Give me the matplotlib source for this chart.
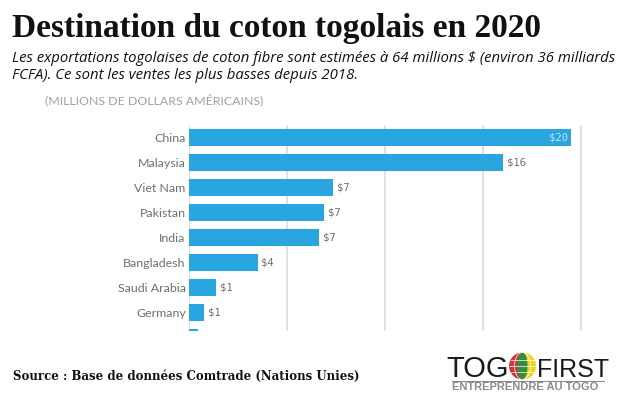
"""Destination du coton togolais en 2020 - bar chart with Togo First logo."""
import matplotlib
matplotlib.use('Agg')
import matplotlib.pyplot as plt
from matplotlib.patches import Wedge, Ellipse, Rectangle

countries = ['China', 'Malaysia', 'Viet Nam', 'Pakistan', 'India', 'Bangladesh',
             'Saudi Arabia', 'Germany', '']
values = [19.5, 16.05, 7.35, 6.9, 6.65, 3.52, 1.39, 0.8, 0.5]
value_labels = ['$20', '$16', '$7', '$7', '$7', '$4', '$1', '$1', '']
x_ticks = [0, 5, 10, 15, 20]

BLUE = '#29a6df'
GRID = '#dcdcdc'
LABEL = '#6e6e6e'

W, H = 625, 400
fig = plt.figure(figsize=(W / 100, H / 100), dpi=100, facecolor='white')

# overlay in pixel coords for the texts and logo
bg = fig.add_axes([0, 0, 1, 1])
bg.set_xlim(0, W)
bg.set_ylim(H, 0)
bg.axis('off')

# chart area: x 188.5-581, y 125-331
x0, x1, y0, y1 = 188.5, 581.5, 125, 331
ax = fig.add_axes([x0 / W, 1 - y1 / H, (x1 - x0) / W, (y1 - y0) / H])
ax.patch.set_alpha(0)
ax.set_xlim(0, 20.04)
ax.set_ylim(7.73, -0.51)
for s in ax.spines.values():
    s.set_visible(False)
ax.set_xticks(x_ticks)
ax.tick_params(axis='x', length=0, labelbottom=False)
ax.grid(True, axis='x', color=GRID, linewidth=1.2, zorder=0)
ax.set_axisbelow(True)

ypos = list(range(len(countries)))
ax.barh(ypos, values, height=0.68, color=BLUE, zorder=2)
ax.set_yticks(ypos[:-1])
ax.set_yticklabels(countries[:-1], fontfamily='Lato', fontsize=8.9, color=LABEL,
                   va='center_baseline')
ax.tick_params(axis='y', length=0, pad=2)

for i, (v, lab) in enumerate(zip(values, value_labels)):
    if not lab:
        continue
    if i == 0:
        ax.text(v - 0.12, i, lab, ha='right', va='center', fontsize=7.6,
                family='DejaVu Sans Mono', color='#bfe3f5', zorder=3)
    else:
        ax.text(v + 0.2, i, lab, ha='left', va='center', fontsize=7.6,
                family='DejaVu Sans Mono', color=LABEL, zorder=3)

# titles
bg.text(12, 28, 'Destination du coton togolais en 2020', family='Liberation Serif',
        fontweight='bold', fontsize=24, color='#111111', va='center', ha='left')
bg.text(12, 58, 'Les exportations togolaises de coton fibre sont estimées à 64 millions $ (environ 36 milliards',
        family='Open Sans', style='italic', fontsize=10.7, color='#111111', va='center', ha='left')
bg.text(12, 75.5, 'FCFA). Ce sont les ventes les plus basses depuis 2018.',
        family='Open Sans', style='italic', fontsize=10.7, color='#111111', va='center', ha='left')
bg.text(45, 100, '(MILLIONS DE DOLLARS AMÉRICAINS)', family='Lato', fontsize=8.9,
        color='#a0a0a0', va='center', ha='left')

# source
bg.text(13, 376, 'Source : Base de données Comtrade (Nations Unies)', family='DejaVu Serif',
        fontweight='bold', fontsize=8.5, color='#111111', va='center', ha='left')

# logo
bg.text(446, 377, 'TOG', family='Liberation Sans', fontsize=21, color='#1a1a1a',
        va='baseline', ha='left')
bg.text(537, 377, 'FIRST', family='Liberation Sans', fontsize=18, color='#1a1a1a',
        va='baseline', ha='left')
gx, gy, gr = 522.5, 366, 13.5
bg.add_patch(Wedge((gx, gy), gr, 90, 270, facecolor='#c8373a', edgecolor='none'))
bg.add_patch(Wedge((gx, gy), gr, -90, 90, facecolor='#f4d01c', edgecolor='none'))
bg.add_patch(Ellipse((gx, gy), 10, 2 * gr, facecolor='#2f8f45', edgecolor='none'))
bg.add_patch(Ellipse((gx, gy), 16, 2 * gr, facecolor='none', edgecolor='white', linewidth=0.5))
bg.plot([gx - gr, gx + gr], [gy, gy], color='white', linewidth=0.5)
bg.plot([gx - gr + 2, gx + gr - 2], [gy - 6, gy - 6], color='white', linewidth=0.5)
bg.plot([gx - gr + 2, gx + gr - 2], [gy + 6, gy + 6], color='white', linewidth=0.5)
bg.add_patch(Rectangle((452, 380.5), 153, 1.2, facecolor='#8a8a8a', edgecolor='none'))
bg.text(452, 387, 'ENTREPRENDRE AU TOGO', family='Liberation Sans', fontweight='bold',
        fontsize=8, color='#8a8a8a', va='center', ha='left')

fig.savefig('out.png', dpi=100)
